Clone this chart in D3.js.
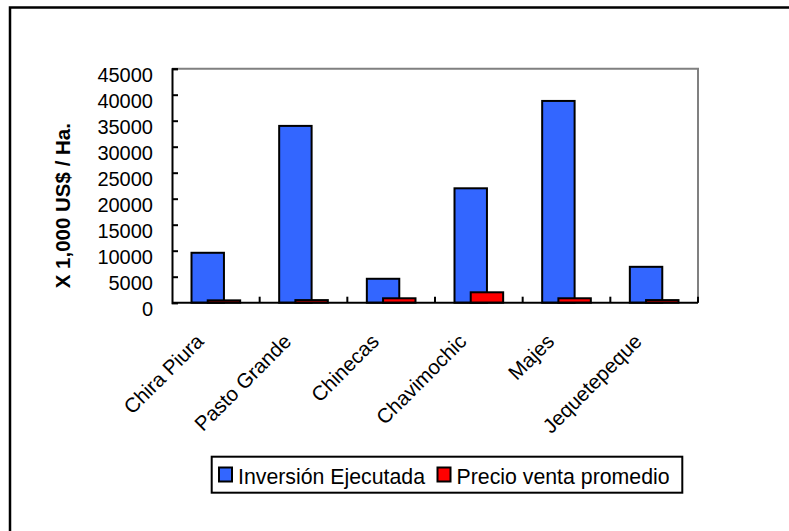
<!DOCTYPE html>
<html>
<head>
<meta charset="utf-8">
<script src="https://cdn.jsdelivr.net/npm/d3@7"></script>
<style>
  html, body { margin: 0; padding: 0; background: #fff; }
  svg { display: block; font-family: Arial, "Liberation Sans", sans-serif; }
</style>
</head>
<body>
<svg id="chart" width="789" height="531"></svg>
<script>
// Project names and the two series (thousands of US$ per hectare)
const categories = ["Chira Piura", "Pasto Grande", "Chinecas", "Chavimochic", "Majes", "Jequetepeque"];
const inversion = [9600, 34000, 4600, 22000, 38800, 6900];
const precioVenta = [450, 500, 850, 2000, 850, 500];
const yTicks = [0, 5000, 10000, 15000, 20000, 25000, 30000, 35000, 40000, 45000];
const seriesNames = ["Inversión Ejecutada", "Precio venta promedio"];
const seriesColors = ["#3366FF", "#FF0000"];
const yTitle = "X 1,000 US$ / Ha.";

const svg = d3.select("#chart");

// Outer frame (right and bottom edges run past the page)
svg.append("rect")
  .attr("x", 10).attr("y", 7.5)
  .attr("width", 800).attr("height", 560)
  .attr("fill", "none").attr("stroke", "#000").attr("stroke-width", 2.5);

const plot = { left: 172, right: 698, top: 68.7, bottom: 302.7 };

const x = d3.scaleBand().domain(categories).range([plot.left, plot.right]);
const y = d3.scaleLinear().domain([0, 45000]).range([plot.bottom, plot.top]);

// Plot area border: grey top/right
svg.append("path")
  .attr("d", `M${plot.left},${plot.top}H${plot.right}V${plot.bottom}`)
  .attr("fill", "none").attr("stroke", "#808080").attr("stroke-width", 2);

// Bars: width and 50% overlap between the two series
const barW = x.bandwidth() * 0.37;
const groupW = barW * 1.5;
const series = [inversion, precioVenta];
series.forEach((vals, si) => {
  svg.append("g").selectAll("rect")
    .data(vals)
    .join("rect")
    .attr("x", (d, i) => x(categories[i]) + (x.bandwidth() - groupW) / 2 + si * barW * 0.5)
    .attr("y", d => y(d))
    .attr("width", barW)
    .attr("height", d => y(0) - y(d))
    .attr("fill", seriesColors[si])
    .attr("stroke", "#000")
    .attr("stroke-width", 2);
});

// Y axis
const yAxis = d3.axisLeft(y).tickValues(yTicks).tickSize(-6).tickPadding(20).tickFormat(d3.format("d"));
const gy = svg.append("g").attr("transform", `translate(${plot.left},0)`).call(yAxis);
gy.select(".domain").attr("stroke", "#000").attr("stroke-width", 2);
gy.selectAll(".tick line").attr("stroke", "#000").attr("stroke-width", 2);
gy.selectAll(".tick text")
  .attr("font-size", 20).attr("fill", "#000")
  .attr("font-family", "Arial, 'Liberation Sans', sans-serif")
  .attr("dy", "0.65em").attr("x", -19);

// X axis with category boundary ticks pointing into the plot
svg.append("line")
  .attr("x1", plot.left).attr("x2", plot.right)
  .attr("y1", plot.bottom).attr("y2", plot.bottom)
  .attr("stroke", "#000").attr("stroke-width", 2);
const bounds = categories.map(c => x(c) + x.bandwidth());
svg.append("g").selectAll("line")
  .data(bounds)
  .join("line")
  .attr("x1", d => d).attr("x2", d => d)
  .attr("y1", plot.bottom).attr("y2", plot.bottom - 6)
  .attr("stroke", "#000").attr("stroke-width", 2);

// Rotated category labels
svg.append("g").selectAll("text")
  .data(categories)
  .join("text")
  .attr("transform", d => `translate(${x(d) + x.bandwidth() / 2 - 11},${plot.bottom + 40}) rotate(-45)`)
  .attr("text-anchor", "end")
  .attr("font-size", 20.5)
  .attr("fill", "#000")
  .text(d => d);

// Y axis title
svg.append("text")
  .attr("transform", `translate(70,${(plot.top + plot.bottom) / 2 + 20}) rotate(-90)`)
  .attr("text-anchor", "middle")
  .attr("font-size", 20.5)
  .attr("font-weight", "bold")
  .attr("fill", "#000")
  .text(yTitle);

// Legend
const lg = svg.append("g");
lg.append("rect")
  .attr("x", 211.7).attr("y", 456.7).attr("width", 470.6).attr("height", 36)
  .attr("fill", "#fff").attr("stroke", "#000").attr("stroke-width", 2);
const legendX = [219, 437.5];
seriesNames.forEach((name, i) => {
  lg.append("rect")
    .attr("x", legendX[i]).attr("y", 467.5).attr("width", 13).attr("height", 14)
    .attr("fill", seriesColors[i]).attr("stroke", "#000").attr("stroke-width", 2);
  lg.append("text")
    .attr("x", legendX[i] + 19).attr("y", 484)
    .attr("font-size", 21.3).attr("fill", "#000")
    .text(name);
});
</script>
</body>
</html>
